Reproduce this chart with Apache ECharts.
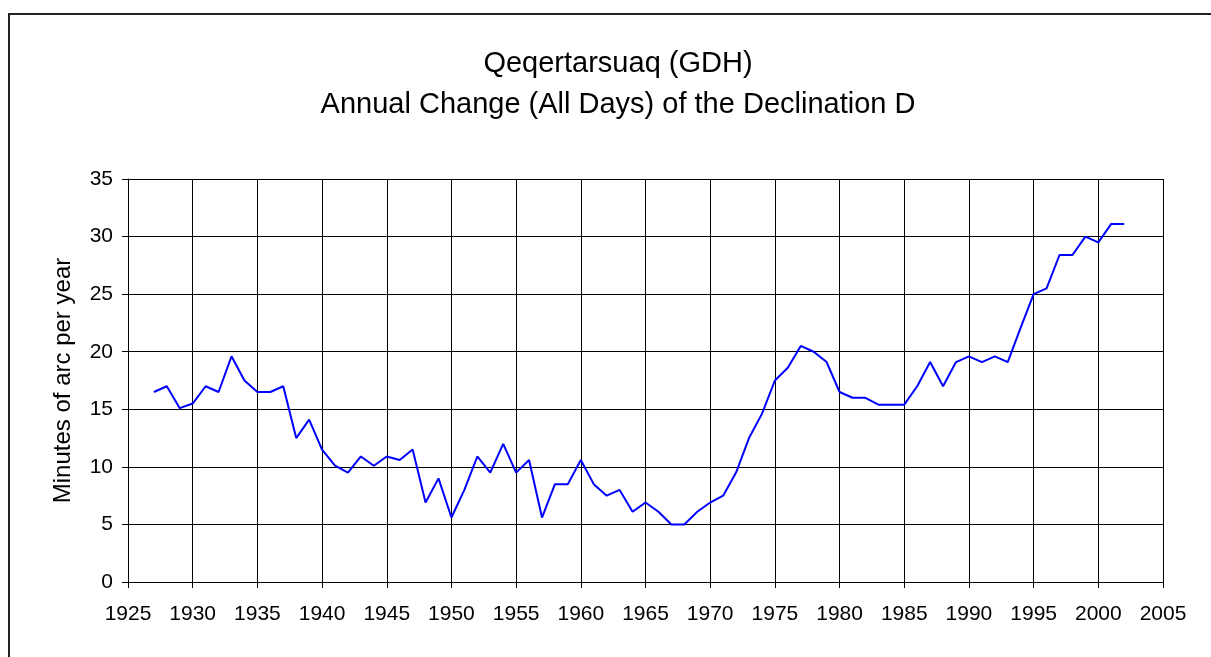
<!DOCTYPE html>
<html>
<head>
<meta charset="utf-8">
<title>Qeqertarsuaq (GDH)</title>
<script src="https://cdn.jsdelivr.net/npm/echarts@6/dist/echarts.min.js"></script>
<style>
  html, body { margin: 0; padding: 0; background: #fff; }
  #main { width: 1211px; height: 657px; }
</style>
</head>
<body>
<div id="main"></div>
<script>
// years 1927 - 2002
var firstYear = 1927;
var declChange = [
  16.5, 17, 15.1, 15.5, 17, 16.5, 19.6, 17.5, 16.5, 16.5,
  17, 12.5, 14.1, 11.5, 10.1, 9.5, 10.9, 10.1, 10.9, 10.6,
  11.5, 6.9, 9, 5.6, 8, 10.9, 9.5, 12, 9.5, 10.6,
  5.6, 8.5, 8.5, 10.6, 8.5, 7.5, 8, 6.1, 6.9, 6.1,
  5, 5, 6.1, 6.9, 7.5, 9.5, 12.5, 14.6, 17.5, 18.6,
  20.5, 20, 19.1, 16.5, 16, 16, 15.4, 15.4, 15.4, 17,
  19.1, 17, 19.1, 19.6, 19.1, 19.6, 19.1, 22.1, 25, 25.5,
  28.4, 28.4, 30, 29.5, 31.1, 31.1
];
var titleLines = ['Qeqertarsuaq (GDH)', 'Annual Change (All Days) of the Declination D'];
var yName = 'Minutes of arc per year';

var points = [];
for (var i = 0; i < declChange.length; i++) {
  points.push([firstYear + i, declChange[i]]);
}

var myChart = echarts.init(document.getElementById('main'));
var fontFam = '"Liberation Sans", Arial, sans-serif';

myChart.setOption({
  animation: false,
  backgroundColor: '#fff',
  textStyle: { fontFamily: fontFam },
  title: {
    text: titleLines.join('\n'),
    left: 613,
    textAlign: 'center',
    top: 38,
    textStyle: {
      fontFamily: fontFam,
      fontSize: 29,
      fontWeight: 'normal',
      color: '#000',
      lineHeight: 41
    }
  },
  graphic: [{
    type: 'rect',
    shape: { x: 9, y: 14, width: 1300, height: 700 },
    style: { fill: 'none', stroke: '#222', lineWidth: 2 },
    silent: true
  }],
  grid: { left: 128, right: 48, top: 179, bottom: 75 },
  xAxis: {
    type: 'value',
    min: 1925,
    max: 2005,
    interval: 5,
    axisLine: { show: true, lineStyle: { color: '#000', width: 1 } },
    axisTick: { show: true, length: 6, lineStyle: { color: '#000' } },
    axisLabel: {
      color: '#000', fontSize: 21, margin: 22, fontFamily: fontFam,
      formatter: function (v) { return String(v); }
    },
    splitLine: { show: true, lineStyle: { color: '#000', width: 1 } }
  },
  yAxis: {
    type: 'value',
    min: 0,
    max: 35,
    interval: 5,
    name: yName,
    nameLocation: 'middle',
    nameGap: 53,
    nameTextStyle: { color: '#000', fontSize: 24, fontFamily: fontFam },
    axisLine: { show: true, lineStyle: { color: '#000', width: 1 } },
    axisTick: { show: true, length: 6, lineStyle: { color: '#000' } },
    axisLabel: { color: '#000', fontSize: 21, margin: 15, fontFamily: fontFam },
    splitLine: { show: true, lineStyle: { color: '#000', width: 1 } }
  },
  series: [{
    name: 'Declination D',
    type: 'line',
    data: points,
    showSymbol: false,
    symbol: 'none',
    lineStyle: { color: '#0000ff', width: 2 },
    itemStyle: { color: '#0000ff' }
  }]
});
</script>
</body>
</html>
